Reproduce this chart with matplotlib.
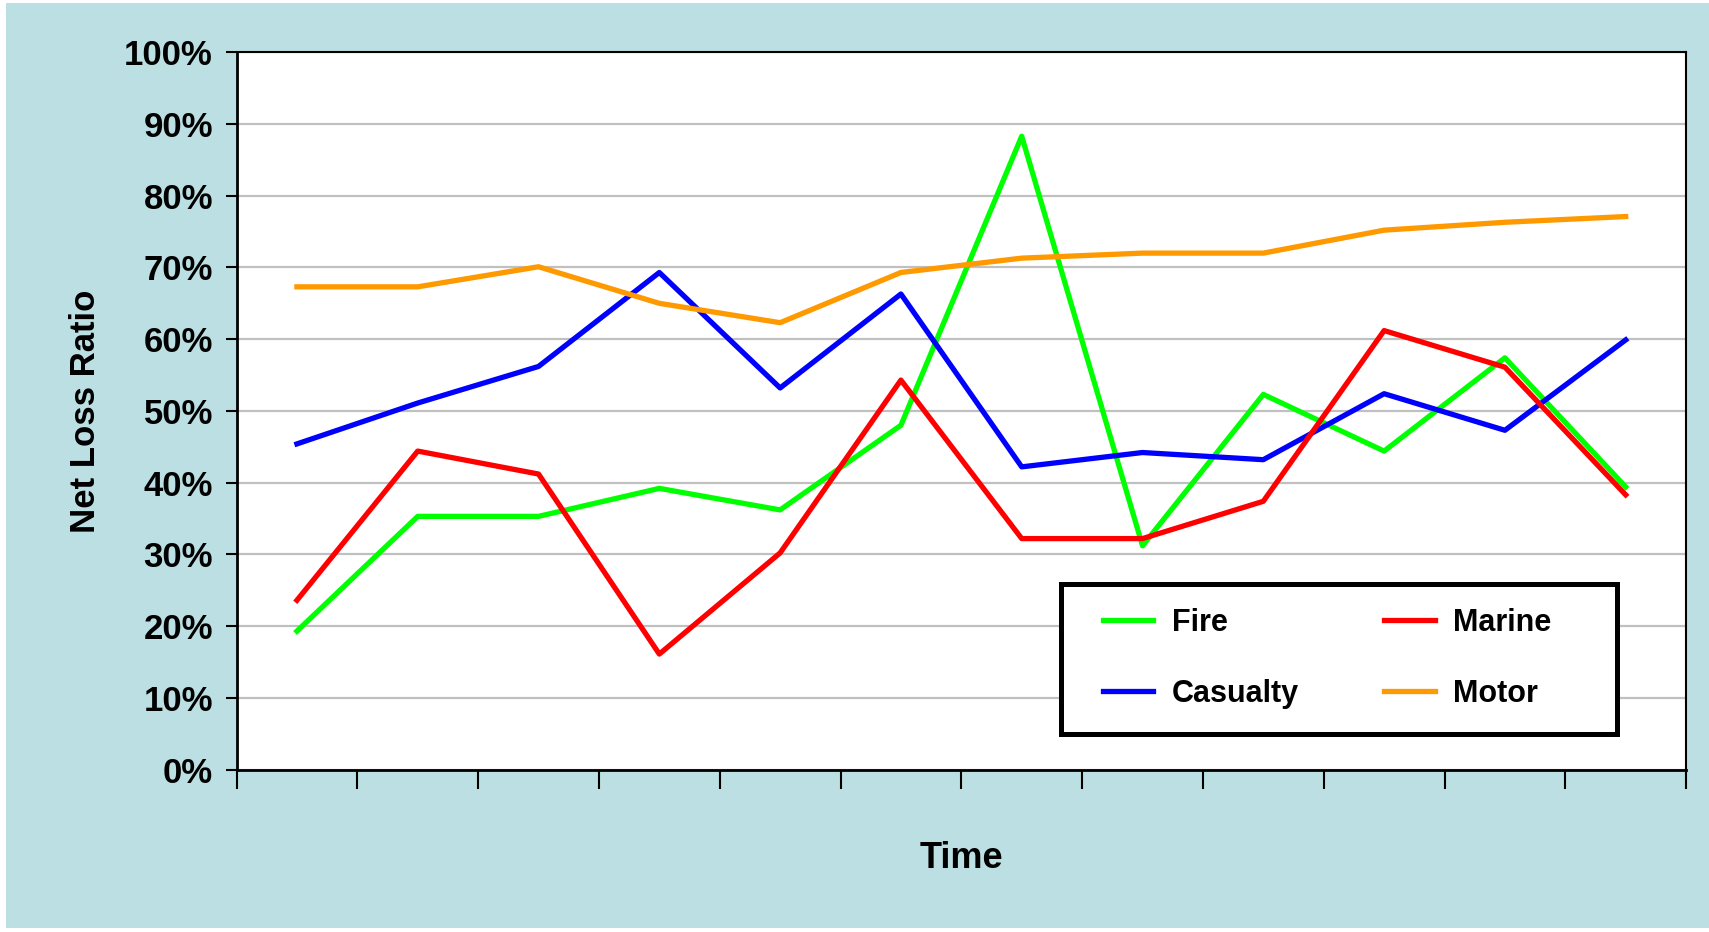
import numpy as np
import matplotlib
matplotlib.use('Agg')
import matplotlib.pyplot as plt
from matplotlib.patches import Rectangle
from matplotlib.ticker import FuncFormatter

# Datos (ratio de siniestralidad neta, %)
periodos = list(range(1, 13))
fire = [19.3, 35.3, 35.3, 39.2, 36.2, 48.0, 88.3, 31.2, 52.3, 44.4, 57.4, 39.4]
marine = [23.6, 44.4, 41.2, 16.1, 30.2, 54.3, 32.2, 32.2, 37.4, 61.2, 56.1, 38.3]
casualty = [45.4, 51.1, 56.2, 69.3, 53.2, 66.3, 42.2, 44.2, 43.2, 52.4, 47.3, 59.9]
motor = [67.3, 67.3, 70.1, 65.0, 62.3, 69.3, 71.3, 72.0, 72.0, 75.2, 76.3, 77.1]

plt.rcParams['font.family'] = ['Liberation Sans', 'DejaVu Sans']
plt.rcParams['font.weight'] = 'bold'

fig = plt.figure(figsize=(17.09, 9.32), dpi=100, facecolor='white')
fondo = Rectangle((6 / 1709, 4 / 932), 1 - 6 / 1709, 1 - 7 / 932,
                  transform=fig.transFigure, facecolor='#BBDFE2',
                  edgecolor='none', zorder=-10)
fig.patches.append(fondo)

ax = fig.add_axes([0.1384, 0.1743, 0.8482, 0.7696])
ax.set_facecolor('white')

x = np.array(periodos)
ax.plot(x, fire, color='#00FF00', lw=3.8, label='Fire', zorder=3)
ax.plot(x, casualty, color='#0000FF', lw=3.8, label='Casualty', zorder=3)
ax.plot(x, marine, color='#FF0000', lw=3.8, label='Marine', zorder=3)
ax.plot(x, motor, color='#FF9900', lw=3.8, label='Motor', zorder=3)

ax.set_xlim(0.5, 12.5)
ax.set_ylim(0, 100)
ax.set_yticks(np.arange(0, 101, 10))
ax.yaxis.set_major_formatter(FuncFormatter(lambda v, p: f'{v:.0f}%'))
ax.set_xticks(np.arange(0.5, 13, 1))
ax.set_xticklabels([])

ax.grid(axis='y', color='#C0C0C0', lw=1.6, zorder=1)
ax.set_axisbelow(True)

for s in ['left', 'bottom']:
    ax.spines[s].set_linewidth(2)
    ax.spines[s].set_color('black')
for s in ['top', 'right']:
    ax.spines[s].set_linewidth(1.5)
    ax.spines[s].set_color('black')

ax.tick_params(axis='y', direction='out', length=8, width=1.5, labelsize=25, pad=9)
ax.tick_params(axis='x', direction='out', length=14, width=1.5)

ax.set_ylabel('Net Loss Ratio', fontsize=25, fontweight='bold', labelpad=16)
ax.set_xlabel('Time', fontsize=26, fontweight='bold', labelpad=34)

# caja de la leyenda dibujada aparte para controlar los margenes
caja = Rectangle((0.569, 0.0502), 0.3835, 0.2086, transform=ax.transAxes,
                 facecolor='white', edgecolor='black', lw=3.6, zorder=5,
                 joinstyle='miter')
ax.add_patch(caja)

leg = ax.legend(ncol=2, loc='upper left', bbox_to_anchor=(0.598, 0.2255),
                borderaxespad=0, borderpad=0, fontsize=22, frameon=False,
                handlelength=1.64, handletextpad=0.6, labelspacing=1.34,
                columnspacing=2.8)
leg.set_zorder(6)

plt.savefig('out.png', dpi=100, facecolor=fig.get_facecolor())
